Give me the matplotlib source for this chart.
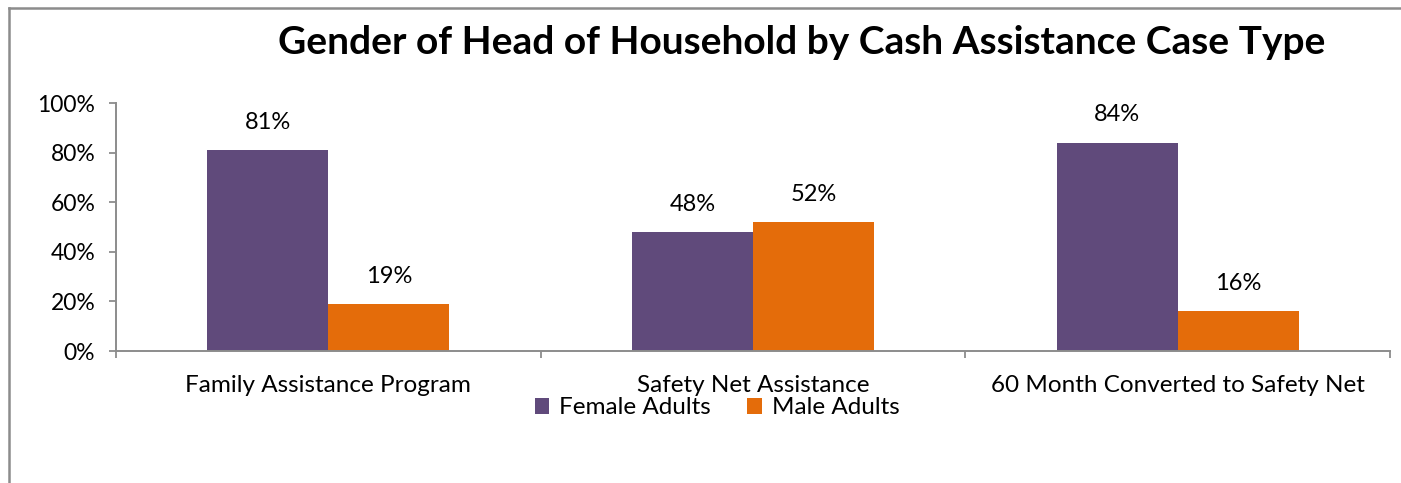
import matplotlib
matplotlib.use("Agg")
import matplotlib.pyplot as plt
import numpy as np
from matplotlib.lines import Line2D

plt.rcParams['font.family'] = ['Lato', 'DejaVu Sans']

categories = ["Family Assistance Program", "Safety Net Assistance", "60 Month Converted to Safety Net"]
female = [81, 48, 84]
male = [19, 52, 16]
series_names = ["Female Adults", "Male Adults"]
yticks = [0, 20, 40, 60, 80, 100]

purple = "#604A7B"
orange = "#E46C0A"
grey = "#8C8C8C"

W, H = 1401, 483
fig = plt.figure(figsize=(W / 100, H / 100), dpi=100)

# chart-area frame (top and left edges only)
fig.add_artist(Line2D([8.5 / W, 1], [1 - 7.5 / H, 1 - 7.5 / H], transform=fig.transFigure,
                      color=grey, lw=1.8))
fig.add_artist(Line2D([8.5 / W, 8.5 / W], [0, 1 - 7.5 / H], transform=fig.transFigure,
                      color=grey, lw=1.8))

ax = fig.add_axes([116 / W, 1 - 351 / H, (1390 - 116) / W, (351 - 103) / H])

x = np.arange(len(categories))
bw = 0.285
b1 = ax.bar(x - bw / 2, female, bw, color=purple, label=series_names[0])
b2 = ax.bar(x + bw / 2, male, bw, color=orange, label=series_names[1])

for bars, vals in ((b1, female), (b2, male)):
    for rect, v in zip(bars, vals):
        ax.annotate("{}%".format(v), (rect.get_x() + rect.get_width() / 2, v),
                    xytext=(0, 20), textcoords="offset points",
                    ha="center", va="center", fontsize=17)

ax.set_xlim(-0.5, len(categories) - 0.5)
ax.set_ylim(0, 100)
ax.set_yticks(yticks)
ax.set_yticklabels(["{}%".format(t) for t in yticks], fontsize=16.5)
ax.set_xticks(x)
ax.set_xticklabels(categories, fontsize=17.5)
ax.set_xticks(np.arange(len(categories) + 1) - 0.5, minor=True)
ax.tick_params(axis='x', which='major', length=0, pad=17)
ax.tick_params(axis='x', which='minor', length=5, width=1.3, color=grey, direction='out')
ax.tick_params(axis='y', length=5, width=1.3, color=grey, pad=10)

for s in ('top', 'right'):
    ax.spines[s].set_visible(False)
for s in ('left', 'bottom'):
    ax.spines[s].set_color(grey)
    ax.spines[s].set_linewidth(1.4)

fig.text(802 / W, 1 - 42 / H, "Gender of Head of Household by Cash Assistance Case Type",
         ha="center", va="center", fontsize=28, fontweight="bold")

fig.legend(handles=[b1, b2], labels=series_names, loc="center", ncol=2,
           bbox_to_anchor=(717 / W, 1 - 408 / H), frameon=False, fontsize=17.5,
           handlelength=0.6, handleheight=0.6, handletextpad=0.4, columnspacing=1.5)

fig.savefig("out.png", dpi=100)
